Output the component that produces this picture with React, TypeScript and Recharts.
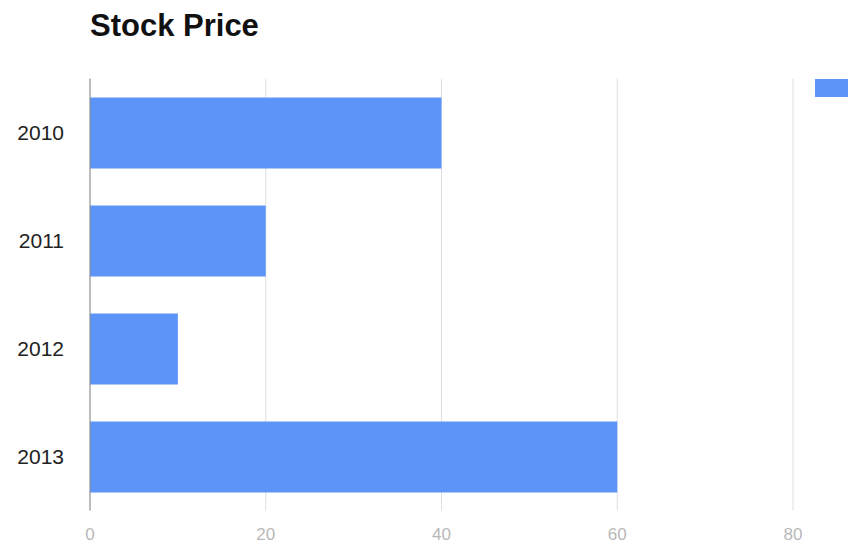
import { Bar, BarChart, CartesianGrid, XAxis, YAxis } from 'recharts'

const years = ['2010', '2011', '2012', '2013']
const prices = [40, 20, 10, 60]
const xTicks = [0, 20, 40, 60, 80]
const seriesName = 'Price'

const data = years.map((year, i) => ({ year, price: prices[i] }))

const font = '"Liberation Sans", Arial, sans-serif'

export default function App(): JSX.Element {
  return (
    <div
      style={{
        position: 'fixed',
        left: 0,
        top: 0,
        width: 848,
        height: 544,
        overflow: 'hidden',
        background: '#fff',
        fontFamily: font,
      }}
    >
      <div style={{ position: 'absolute', left: 90, top: 8, fontSize: 31, fontWeight: 'bold', color: '#111' }}>
        Stock Price
      </div>
      <div style={{ position: 'absolute', left: 815, top: 79, display: 'flex', alignItems: 'center', whiteSpace: 'nowrap' }}>
        <div style={{ width: 36, height: 18, background: '#5c95f7' }} />
        <span style={{ marginLeft: 8, fontSize: 16, color: '#222' }}>{seriesName}</span>
      </div>
      <BarChart
        width={1050}
        height={544}
        data={data}
        layout="vertical"
        margin={{ top: 78.5, right: 81.25, left: 0, bottom: 0 }}
      >
        <CartesianGrid horizontal={false} stroke="#dedede" />
        <XAxis
          type="number"
          domain={[0, 100]}
          ticks={xTicks}
          height={33.5}
          axisLine={false}
          tickLine={false}
          tickMargin={11}
          tick={{ fontSize: 17, fill: '#b8b8b8', fontFamily: font }}
        />
        <YAxis
          type="category"
          dataKey="year"
          width={90}
          axisLine={{ stroke: '#8a8a8a' }}
          tickLine={false}
          tickMargin={20}
          tick={{ fontSize: 21, fill: '#222', fontFamily: font }}
        />
        <Bar dataKey="price" name={seriesName} fill="#5c95f7" barSize={71} isAnimationActive={false} />
      </BarChart>
    </div>
  )
}
